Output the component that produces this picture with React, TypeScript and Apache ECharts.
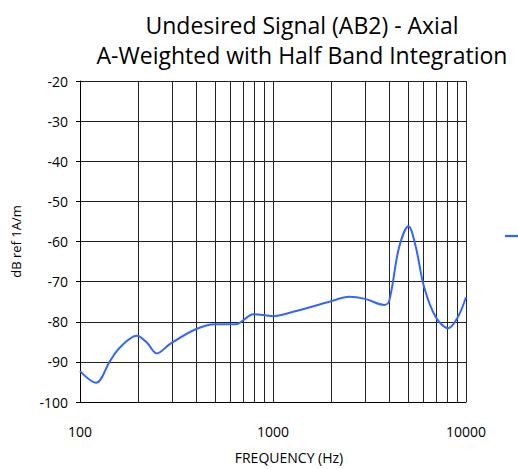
import React, { useEffect, useRef } from "react";
import * as echarts from "echarts";

const titleLines = ["Undesired Signal (AB2) - Axial", "A-Weighted with Half Band Integration"];
const seriesName = "AB2 Axial";
const freqs = [100, 121, 143, 161, 197, 222, 250, 293, 400, 500, 638, 794, 1000, 1233, 2000, 2476, 3000, 3765, 4000, 4504, 5035, 5495, 6070, 6980, 8090, 9060, 10000];
const dbValues = [-92.3, -95.2, -89.8, -86.4, -83.5, -85.2, -87.9, -85.5, -81.8, -80.6, -80.6, -78.1, -78.6, -77.7, -74.9, -73.8, -74.3, -75.8, -74.8, -61.4, -56.2, -61.4, -71.4, -78.9, -81.6, -78.9, -73.9];
const minorFreqs = [200, 300, 400, 500, 600, 700, 800, 900, 2000, 3000, 4000, 5000, 6000, 7000, 8000, 9000];
const xLabels = [100, 1000, 10000];

const FONT = "'Comic Sans MS', 'Open Sans', 'DejaVu Sans', sans-serif";

export default function App() {
  const ref = useRef<HTMLDivElement>(null);
  useEffect(() => {
    if (!ref.current) return;
    const chart = echarts.init(ref.current, undefined, { renderer: "svg" });
    chart.setOption({
      animation: false,
      backgroundColor: "#ffffff",
      title: {
        text: titleLines.join("\n"),
        left: 297,
        top: 5,
        textAlign: "center",
        textStyle: { fontFamily: FONT, fontSize: 23, fontWeight: "normal", color: "#000", lineHeight: 30 },
      },
      legend: {
        left: 500,
        top: 224,
        itemWidth: 18,
        itemHeight: 14,
        formatter: () => "",
        textStyle: { fontFamily: FONT, fontSize: 13, color: "#000" },
        data: [{ name: seriesName, icon: "path://M0,6 L16,6 L16,8 L0,8 Z" }],
      },
      grid: { left: 80, right: 52, top: 81, bottom: 67, containLabel: false },
      xAxis: {
        type: "log",
        logBase: 10,
        min: 100,
        max: 10000,
        name: "FREQUENCY (Hz)",
        nameLocation: "middle",
        nameGap: 48,
        nameTextStyle: { fontFamily: FONT, fontSize: 14, color: "#000", padding: [0, 0, 0, 32] },
        axisLine: { show: true, lineStyle: { color: "#000", width: 1 } },
        axisTick: { show: false },
        axisLabel: {
          fontFamily: FONT,
          fontSize: 14,
          color: "#000",
          margin: 22,
          formatter: (v: number) => (xLabels.includes(Math.round(v)) ? String(Math.round(v)) : ""),
        },
        splitLine: { show: true, lineStyle: { color: "#222", width: 1 } },
      },
      yAxis: {
        type: "value",
        min: -100,
        max: -20,
        interval: 10,
        name: "dB ref 1A/m",
        nameLocation: "middle",
        nameGap: 58,
        nameRotate: 90,
        nameTextStyle: { fontFamily: FONT, fontSize: 13, color: "#000" },
        axisLine: { show: true, lineStyle: { color: "#000", width: 1 } },
        axisTick: { show: true, inside: false, length: 4, lineStyle: { color: "#000" } },
        axisLabel: { fontFamily: FONT, fontSize: 14, color: "#000", margin: 12 },
        splitLine: { show: true, lineStyle: { color: "#222", width: 1 } },
      },
      series: [
        {
          name: seriesName,
          type: "line",
          data: freqs.map((f, i) => [f, dbValues[i]]),
          smooth: 0.35,
          showSymbol: false,
          lineStyle: { color: "#3366ff", width: 2 },
          itemStyle: { color: "#3366ff" },
          markLine: {
            silent: true,
            symbol: "none",
            label: { show: false },
            lineStyle: { color: "#222", width: 1, type: "solid" },
            data: minorFreqs.map((f) => ({ xAxis: f })),
          },
          z: 5,
        },
      ],
    });
    return () => chart.dispose();
  }, []);
  return <div ref={ref} style={{ position: "fixed", left: 0, top: 0, width: 518, height: 469 }} />;
}
